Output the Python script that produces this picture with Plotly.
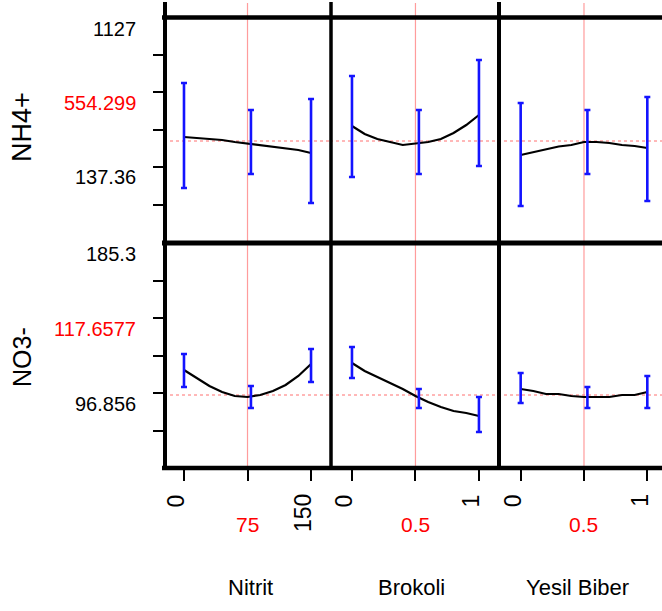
import plotly.graph_objects as go

# ---- data -------------------------------------------------------------
factors = ["Nitrit", "Brokoli", "Yesil Biber"]
responses = ["NH4+", "NO3-"]

factor_levels = {
    "Nitrit": [0, 75, 150],
    "Brokoli": [0, 0.5, 1],
    "Yesil Biber": [0, 0.5, 1],
}
level_text = {
    "Nitrit": ["0", "75", "150"],
    "Brokoli": ["0", "0.5", "1"],
    "Yesil Biber": ["0", "0.5", "1"],
}

nitrit_grid = [0, 15, 30, 45, 60, 75, 90, 105, 120, 135, 150]
unit_grid = [0, 0.1, 0.2, 0.3, 0.4, 0.5, 0.6, 0.7, 0.8, 0.9, 1.0]

# current predicted values and axis labels per response
current_value = {"NH4+": 554.299, "NO3-": 117.6577}
current_text = {"NH4+": "554.299", "NO3-": "117.6577"}
upper_text = {"NH4+": "1127", "NO3-": "185.3"}
lower_text = {"NH4+": "137.36", "NO3-": "96.856"}

# prediction traces
nh4_nitrit = [572.8, 568.2, 563.5, 558.9, 549.7, 542.8, 535.8, 528.9, 522.0, 512.7, 498.9]
nh4_brokoli = [623.6, 586.6, 563.5, 549.7, 535.8, 542.8, 549.7, 563.5, 591.2, 628.2, 674.4]
nh4_biber = [489.6, 503.5, 515.0, 528.9, 535.8, 549.7, 549.7, 545.1, 535.8, 531.2, 522.0]

no3_nitrit = [128.78, 125.22, 121.66, 118.99, 117.21, 116.77, 117.66, 119.44, 122.11, 126.11, 131.45]
no3_brokoli = [131.90, 128.34, 125.67, 123.00, 120.33, 117.21, 114.54, 112.32, 110.54, 109.65, 108.31]
no3_biber = [120.33, 119.44, 118.10, 118.10, 117.21, 116.77, 116.77, 116.77, 117.66, 117.66, 118.99]

# confidence intervals at the three factor levels
nh4_nitrit_lo = [337.2, 401.9, 267.9]
nh4_nitrit_hi = [822.2, 697.5, 748.3]
nh4_brokoli_lo = [388.0, 401.9, 438.8]
nh4_brokoli_hi = [854.5, 697.5, 928.4]
nh4_biber_lo = [254.1, 401.9, 277.2]
nh4_biber_hi = [729.8, 697.5, 757.5]

no3_nitrit_lo = [121.22, 111.87, 123.44]
no3_nitrit_hi = [135.90, 121.66, 138.13]
no3_brokoli_lo = [125.22, 111.87, 101.19]
no3_brokoli_hi = [139.02, 120.33, 116.77]
no3_biber_lo = [114.10, 111.87, 111.87]
no3_biber_hi = [127.45, 121.22, 126.11]

curves = {
    ("NH4+", "Nitrit"): (nitrit_grid, nh4_nitrit, nh4_nitrit_lo, nh4_nitrit_hi),
    ("NH4+", "Brokoli"): (unit_grid, nh4_brokoli, nh4_brokoli_lo, nh4_brokoli_hi),
    ("NH4+", "Yesil Biber"): (unit_grid, nh4_biber, nh4_biber_lo, nh4_biber_hi),
    ("NO3-", "Nitrit"): (nitrit_grid, no3_nitrit, no3_nitrit_lo, no3_nitrit_hi),
    ("NO3-", "Brokoli"): (unit_grid, no3_brokoli, no3_brokoli_lo, no3_brokoli_hi),
    ("NO3-", "Yesil Biber"): (unit_grid, no3_biber, no3_biber_lo, no3_biber_hi),
}

# ---- layout helpers (pixel geometry of a 662 x 611 page) --------------
W, H = 662, 611


def px_x(p):
    return p / W


def px_y(p):
    return 1 - p / H


col_px = [(164, 330), (330, 498), (498, 662)]
row_px = [(17, 242), (243, 468)]
x_ranges = [[-23.6, 172.4], [-0.173, 1.150], [-0.179, 1.116]]
y_ranges = {"NH4+": [87.8, 1127.0], "NO3-": [85.17, 185.3]}

FONT = "Liberation Sans, Arial, sans-serif"
BLUE = "#1414FF"
PINK = "#FF9C9C"

fig = go.Figure()
layout = dict(
    width=W, height=H, margin=dict(l=0, r=0, t=0, b=0),
    paper_bgcolor="white", plot_bgcolor="rgba(0,0,0,0)", showlegend=False,
)

annotations = []
shapes = []

for r, resp in enumerate(responses):
    yname = "yaxis" if r == 0 else f"yaxis{r * 3 + 1}"
    yref = "y" if r == 0 else f"y{r * 3 + 1}"
    lo_r, hi_r = y_ranges[resp]
    layout[yname] = dict(
        domain=[px_y(row_px[r][1]), px_y(row_px[r][0])],
        range=[lo_r, hi_r], anchor="x" if r == 0 else f"x{r * 3 + 1}",
        showgrid=False, zeroline=False, showline=False, showticklabels=False,
        ticks="outside", ticklen=10, tickwidth=2, tickcolor="black",
        tickvals=[lo_r + i * (hi_r - lo_r) / 6 for i in range(1, 6)],
        fixedrange=True,
    )
    for c, fac in enumerate(factors):
        idx = r * 3 + c + 1
        xname = "xaxis" if idx == 1 else f"xaxis{idx}"
        xref = "x" if idx == 1 else f"x{idx}"
        levels = factor_levels[fac]
        bottom_row = r == len(responses) - 1
        layout[xname] = dict(
            domain=[px_x(col_px[c][0]), px_x(col_px[c][1])],
            range=x_ranges[c], anchor=yref,
            showgrid=False, zeroline=False, showline=False, showticklabels=False,
            ticks="outside" if bottom_row else "", ticklen=12, tickwidth=2,
            tickcolor="black", tickvals=levels, fixedrange=True,
        )

        gx, gy, ci_lo, ci_hi = curves[(resp, fac)]
        span = levels[-1] - levels[0]
        # middle interval is drawn just to the right of the current setting
        bar_x = [levels[0], levels[1] + 0.027 * span, levels[2]]

        if r == 0:
            # current-setting line runs through both rows
            shapes.append(dict(
                type="line", xref=xref, yref="paper", layer="below",
                x0=levels[1], x1=levels[1], y0=px_y(3), y1=px_y(468),
                line=dict(color=PINK, width=1.2),
            ))
        # current predicted value
        fig.add_trace(go.Scatter(
            x=x_ranges[c], y=[current_value[resp]] * 2, mode="lines",
            line=dict(color="#FF7070", width=1, dash="dot"),
            xaxis=xref, yaxis=yref, hoverinfo="skip",
        ))
        # prediction trace
        fig.add_trace(go.Scatter(
            x=gx, y=gy, mode="lines", line=dict(color="black", width=2.2),
            xaxis=xref, yaxis=yref,
        ))
        # confidence intervals
        mids = [(a + b) / 2 for a, b in zip(ci_lo, ci_hi)]
        halves = [(b - a) / 2 for a, b in zip(ci_lo, ci_hi)]
        fig.add_trace(go.Scatter(
            x=bar_x, y=mids, mode="markers", marker=dict(size=1, opacity=0),
            error_y=dict(type="data", array=halves, symmetric=True,
                         color=BLUE, thickness=2.6, width=3),
            xaxis=xref, yaxis=yref,
        ))

        if bottom_row:
            # rotated end-level labels, red current-level label
            for k in (0, 2):
                annotations.append(dict(
                    x=levels[k], xref=xref, xshift=-8, y=px_y(492), yref="paper",
                    text=level_text[fac][k], textangle=-90, showarrow=False,
                    xanchor="center", yanchor="top",
                    font=dict(family=FONT, size=23, color="black"),
                ))
            annotations.append(dict(
                x=levels[1], xref=xref, y=px_y(524), yref="paper",
                text=level_text[fac][1], showarrow=False,
                xanchor="center", yanchor="middle",
                font=dict(family=FONT, size=21, color="red"),
            ))
            annotations.append(dict(
                x=(col_px[c][0] + col_px[c][1]) / 2 / W + (0.006 if c == 0 else -0.004),
                xref="paper", y=px_y(587), yref="paper", text=fac,
                showarrow=False, xanchor="center", yanchor="middle",
                font=dict(family=FONT, size=22, color="black"),
            ))

    # response labels to the left of each row
    row_label_y = [(28.5, 103, 177), (254, 329, 404)][r]
    for txt, yy, colr in zip(
        [upper_text[resp], current_text[resp], lower_text[resp]],
        row_label_y, ["black", "red", "black"],
    ):
        annotations.append(dict(
            x=px_x(138), xref="paper", y=px_y(yy), yref="paper", text=txt,
            showarrow=False, xanchor="right", yanchor="middle",
            font=dict(family=FONT, size=20, color=colr),
        ))
    annotations.append(dict(
        x=px_x(22), xref="paper", y=px_y([127, 357][r]), yref="paper",
        text=resp, textangle=-90, showarrow=False,
        xanchor="center", yanchor="middle",
        font=dict(family=FONT, size=[27, 25][r], color="black"),
    ))

# frame lines
def hline(ypx, w):
    shapes.append(dict(type="line", xref="paper", yref="paper",
                       x0=px_x(162), x1=1.02, y0=px_y(ypx), y1=px_y(ypx),
                       line=dict(color="black", width=w)))


def vline(xpx, w):
    shapes.append(dict(type="line", xref="paper", yref="paper",
                       x0=px_x(xpx), x1=px_x(xpx), y0=px_y(2), y1=px_y(470),
                       line=dict(color="black", width=w)))


hline(17.5, 4.5)
hline(243, 5)
hline(468, 4.5)
vline(165, 4)
vline(331, 3.5)
vline(499, 4)

layout["annotations"] = annotations
layout["shapes"] = shapes
fig.update_layout(**layout)

fig.write_html("out.html")
